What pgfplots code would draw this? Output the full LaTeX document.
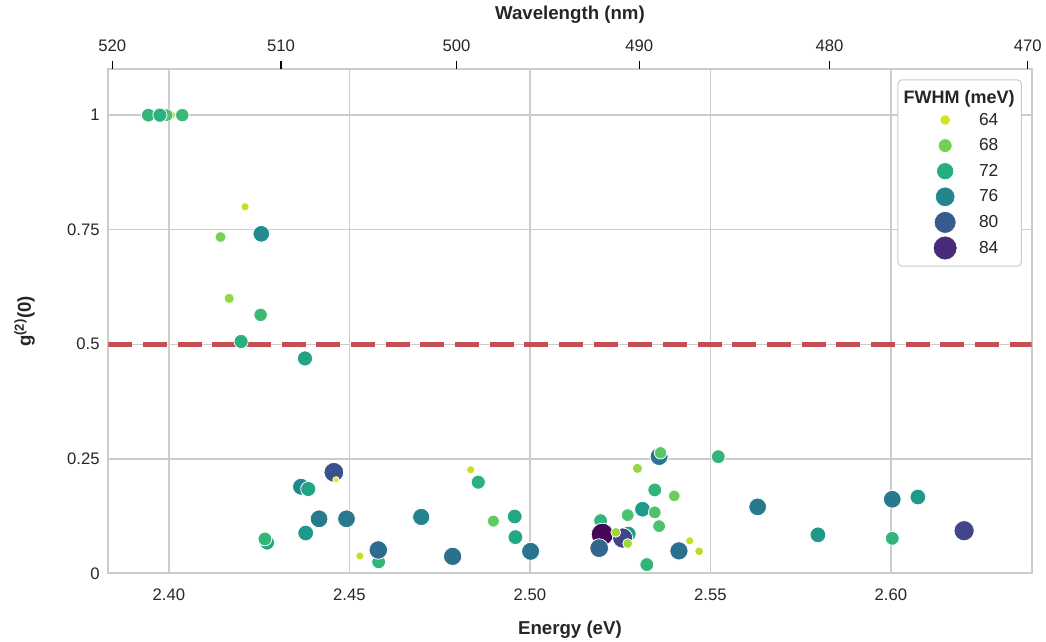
\documentclass[border=0pt]{standalone}
\usepackage{fontspec}
\setmainfont{Liberation Sans}
\usepackage{pgfplots}
\usepackage{pgfplotstable}
\pgfplotsset{compat=1.18}
\definecolor{txt}{HTML}{262626}
\definecolor{gridc}{HTML}{CCCCCC}
\definecolor{redl}{HTML}{C44E52}
\definecolor{c64}{HTML}{D2E21B}
\definecolor{c68}{HTML}{74D055}
\definecolor{c72}{HTML}{25AD82}
\definecolor{c76}{HTML}{23868E}
\definecolor{c80}{HTML}{385A8C}
\definecolor{c84}{HTML}{472A7A}

\pgfplotstableread{
E g f
2.4006 1.000 65
2.3994 1.000 69
2.3943 1.000 70.5
2.3975 1.000 71
2.4037 1.000 70
2.4211 0.800 64
2.4143 0.734 67
2.4256 0.741 75
2.4167 0.600 66
2.4254 0.564 70
2.4200 0.506 71
2.4377 0.469 72.5
2.4457 0.2205 81
2.4463 0.204 62.5
2.4366 0.189 75.5
2.4386 0.184 72.5
2.4272 0.067 72
2.4266 0.075 70.5
2.4416 0.119 77
2.4492 0.119 77
2.4379 0.088 73.5
2.4529 0.038 64
2.4581 0.025 70.5
2.4580 0.051 78.5
2.4699 0.123 76
2.4786 0.037 78
2.4836 0.226 64
2.4857 0.199 71
2.4899 0.114 68
2.4958 0.124 72
2.4960 0.079 72
2.5002 0.048 77.5
2.5196 0.115 70.5
2.5201 0.085 87
2.5192 0.055 79
2.5273 0.086 73
2.5257 0.077 82
2.5238 0.0895 65.5
2.5271 0.065 65.5
2.5271 0.127 69
2.5298 0.229 66
2.5312 0.140 73.5
2.5346 0.182 70.5
2.5346 0.133 69
2.5358 0.103 69
2.5358 0.255 77.5
2.5362 0.263 68.5
2.5400 0.169 67.5
2.5324 0.019 70.5
2.5413 0.049 78
2.5443 0.071 64
2.5469 0.048 64.5
2.5522 0.2546 70.5
2.5631 0.145 77
2.5798 0.084 73.5
2.6004 0.1616 77
2.6075 0.1666 73.5
2.6004 0.0764 70.5
2.6203 0.093 82
}\data

\begin{document}
\begin{tikzpicture}
\begin{axis}[
  at={(0,0)}, anchor=south west,
  scale only axis, width=692.5pt, height=378pt,
  xmin=2.3832, xmax=2.6390, ymin=0, ymax=1.1,
  xtick={2.40,2.45,2.50,2.55,2.60},
  xticklabels={2.40,2.45,2.50,2.55,2.60},
  ytick={0,0.25,0.5,0.75,1},
  yticklabels={0,0.25,0.5,0.75,1},
  major tick length=0pt,
  grid=major, grid style={gridc, line width=1.1pt},
  axis line style={gridc, line width=1.5pt},
  tick label style={font=\fontsize{12.5}{15}\selectfont, text=txt},
  xticklabel style={yshift=-8pt},
  yticklabel style={xshift=-3pt},
  xlabel={\textbf{Energy (eV)}},
  ylabel={\textbf{g\textsuperscript{(2)}(0)}},
  every axis x label/.style={at={(axis description cs:0.5,-0.112)}, anchor=center, font=\fontsize{14}{16}\selectfont, text=txt},
  every axis y label/.style={at={(axis description cs:-0.0905,0.5)}, rotate=90, anchor=center, font=\fontsize{14}{16}\selectfont, text=txt},
  colormap/viridis,
  point meta min=-87.3, point meta max=-61.8,
  legend style={at={(axis description cs:1,1)}, anchor=north east, xshift=-7.3pt, yshift=-7.5pt,
    draw=gridc, line width=0.8pt, rounded corners=3pt, fill=white,
    font=\fontsize{13}{15}\selectfont, text=txt, inner xsep=4pt, inner ysep=4pt, row sep=0pt,
    nodes={inner sep=1pt}},
  legend cell align=left,
  legend image code/.code={\path (-31pt,-9.2pt) (24pt,9.2pt); \draw[#1] plot coordinates {(0pt,0pt)};},
]
\addplot[scatter, only marks, mark=*, forget plot,
  point meta={-\thisrow{f}},
  visualization depends on={\thisrow{f} \as \fw},
  scatter/use mapped color={draw=white, fill=mapped color},
  scatter/@pre marker code/.append style={/tikz/mark size={0.375*sqrt(69+18.9*(\fw-64))}},
  mark options={line width=0.6pt},
] table[x=E, y=g] {\data};
\addplot[redl, line width=4pt, dash pattern=on 18pt off 8pt, forget plot] coordinates {(2.3832,0.5) (2.6390,0.5)};
\addlegendimage{empty legend}
\addlegendentry{\hspace{-56.5pt}\rule[-10pt]{0pt}{23pt}\fontsize{13.5}{15}\selectfont\textbf{FWHM (meV)}}
\addlegendimage{only marks, mark=*, mark size=4pt, mark options={fill=c64, draw=white, line width=0.6pt}}
\addlegendentry{64}
\addlegendimage{only marks, mark=*, mark size=5.25pt, mark options={fill=c68, draw=white, line width=0.6pt}}
\addlegendentry{68}
\addlegendimage{only marks, mark=*, mark size=6.5pt, mark options={fill=c72, draw=white, line width=0.6pt}}
\addlegendentry{72}
\addlegendimage{only marks, mark=*, mark size=7.4pt, mark options={fill=c76, draw=white, line width=0.6pt}}
\addlegendentry{76}
\addlegendimage{only marks, mark=*, mark size=8.25pt, mark options={fill=c80, draw=white, line width=0.6pt}}
\addlegendentry{80}
\addlegendimage{only marks, mark=*, mark size=9pt, mark options={fill=c84, draw=white, line width=0.6pt}}
\addlegendentry{84}
\end{axis}
\begin{axis}[
  at={(0,0)}, anchor=south west,
  scale only axis, width=692.5pt, height=378pt,
  xmin=2.3832, xmax=2.6390, ymin=0, ymax=1.1,
  axis x line*=top, axis y line=none,
  x axis line style={draw=none},
  xtick={2.38431,2.43106,2.47968,2.53029,2.58300,2.63796},
  xticklabels={520,510,500,490,480,470},
  tick align=outside, major tick length=6.5pt,
  x tick style={black, line width=0.8pt},
  xticklabel style={font=\fontsize{12.5}{15}\selectfont, text=txt, yshift=3pt},
  xlabel={\textbf{Wavelength (nm)}},
  every axis x label/.style={at={(axis description cs:0.5,1.1077)}, anchor=center, font=\fontsize{14}{16}\selectfont, text=txt},
]
\addplot[draw=none] coordinates {(2.5,0.5)};
\end{axis}
\pgfresetboundingbox
\useasboundingbox (-81.2pt,-51.5pt) rectangle (703.3pt,430pt);
\end{tikzpicture}
\end{document}
